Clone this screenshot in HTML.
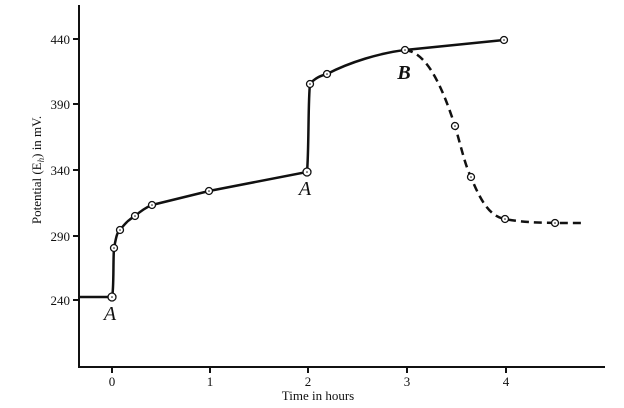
<!DOCTYPE html>
<html><head><style>body{margin:0;background:#fff}svg{display:block}</style></head><body>
<svg width="624" height="408" xmlns="http://www.w3.org/2000/svg" font-family="Liberation Serif, serif">
<rect width="624" height="408" fill="#fff"/>
<g stroke="#111" stroke-width="2" fill="none">
<path d="M79,5 V367 H605"/>
<path d="M73,39H79M73,104H79M73,170H79M73,236H79M73,300H79"/>
<path d="M112,367V373M210,367V373M308,367V373M407,367V373M506,367V373"/>
<path d="M79,297 H112 C114,290 113,260 114,248 C116,238 117,232 120,230 C126,222 130,219 135,216 C142,210 147,207 152,205 L209,191 L307,172 C309,150 308,100 310,84 C315,78 320,76 327,74 C350,62 380,53 405,50 L504,40" stroke-width="2.5"/>
<path d="M405,50 C425,52 440,80 455,126 C462,150 465,165 471,177 C482,205 492,217 505,219 C525,223 545,223 583,223" stroke-dasharray="8,5" stroke-width="2.5"/>
</g>
<g fill="#fff" stroke="#111" stroke-width="1.3">
<circle cx="112" cy="297" r="4"/><circle cx="114" cy="248" r="3.5"/><circle cx="120" cy="230" r="3.5"/><circle cx="135" cy="216" r="3.5"/><circle cx="152" cy="205" r="3.5"/><circle cx="209" cy="191" r="3.5"/><circle cx="307" cy="172" r="4"/><circle cx="310" cy="84" r="3.5"/><circle cx="327" cy="74" r="3.5"/><circle cx="405" cy="50" r="3.5"/><circle cx="504" cy="40" r="3.5"/><circle cx="455" cy="126" r="3.5"/><circle cx="471" cy="177" r="3.5"/><circle cx="505" cy="219" r="3.5"/><circle cx="555" cy="223" r="3.5"/>
</g>
<g fill="#111">
<circle cx="112" cy="297" r="0.8"/><circle cx="114" cy="248" r="0.8"/><circle cx="120" cy="230" r="0.8"/><circle cx="135" cy="216" r="0.8"/><circle cx="152" cy="205" r="0.8"/><circle cx="209" cy="191" r="0.8"/><circle cx="307" cy="172" r="0.8"/><circle cx="310" cy="84" r="0.8"/><circle cx="327" cy="74" r="0.8"/><circle cx="405" cy="50" r="0.8"/><circle cx="504" cy="40" r="0.8"/><circle cx="455" cy="126" r="0.8"/><circle cx="471" cy="177" r="0.8"/><circle cx="505" cy="219" r="0.8"/><circle cx="555" cy="223" r="0.8"/>
</g>
<g font-size="13" fill="#111" text-anchor="end">
<text x="70" y="44">440</text><text x="70" y="109">390</text><text x="70" y="175">340</text><text x="70" y="241">290</text><text x="70" y="305">240</text>
</g>
<g font-size="13" fill="#111" text-anchor="middle">
<text x="112" y="386">0</text><text x="210" y="386">1</text><text x="308" y="386">2</text><text x="407" y="386">3</text><text x="506" y="386">4</text>
<text x="318" y="400">Time in hours</text>
</g>
<g font-size="20" font-style="italic" fill="#111" text-anchor="middle">
<text x="110" y="320">A</text><text x="305" y="195">A</text><text x="404" y="79" font-weight="bold">B</text>
</g>
<text transform="translate(41,170) rotate(-90)" font-size="13" text-anchor="middle" fill="#111">Potential (E<tspan font-size="9" dy="3" font-style="italic">h</tspan><tspan dy="-3">) in mV.</tspan></text>
</svg>
</body></html>
